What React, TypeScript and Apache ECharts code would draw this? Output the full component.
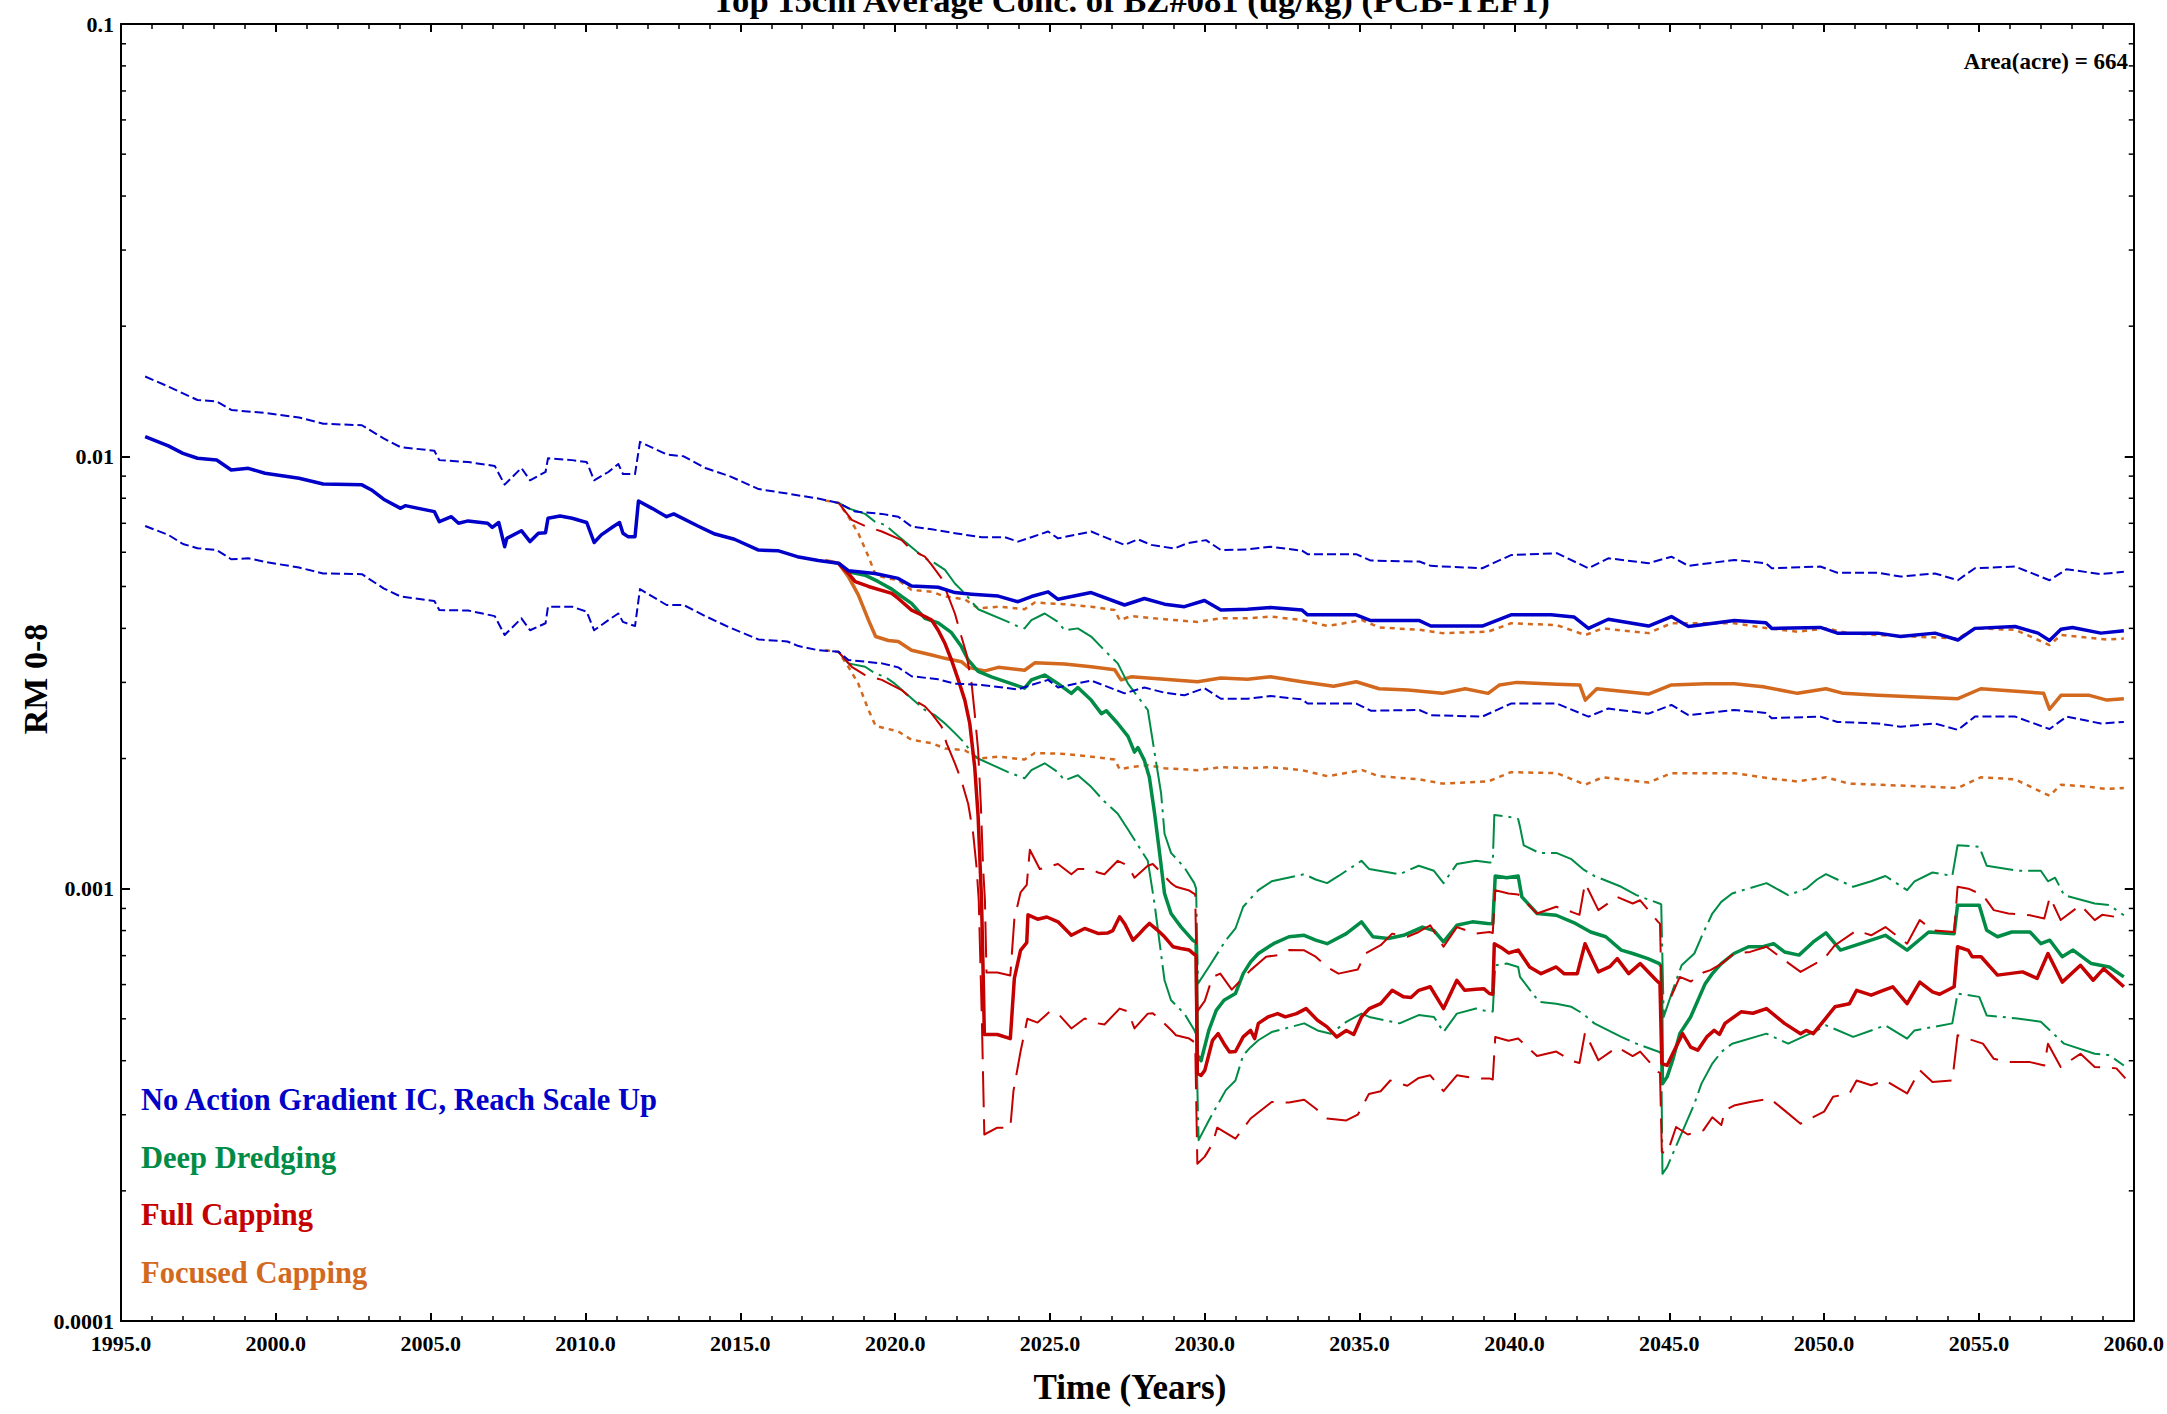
import React, { useEffect, useRef } from "react";
import * as echarts from "echarts";

const FONT = '"Liberation Serif", "Times New Roman", Times, serif';
const C_BLUE = "#0000C8";
const C_GREEN = "#008C46";
const C_RED = "#C40000";
const C_ORANGE = "#D2691E";

const TITLE = "Top 15cm Average Conc. of BZ#081 (ug/kg) (PCB-TEF1)";
const X_NAME = "Time (Years)";
const Y_NAME = "RM 0-8";
const AREA_NOTE = "Area(acre) = 664";
const LEGEND_LABELS = [
  "No Action Gradient IC, Reach Scale Up",
  "Deep Dredging",
  "Full Capping",
  "Focused Capping",
];
const Y_TICK_LABELS = ["0.0001", "0.001", "0.01", "0.1"];
const Y_DECADES = [0.0001, 0.001, 0.01];
const MINOR_MULTS = [2, 3, 4, 5, 6, 7, 8, 9];

type P = [number, number];

// ---- No Action ----
const NA_UP: P[] = [[1995.78,0.0153],[1996.53,0.0145],[1997.47,0.0135],[1998.09,0.0134],[1998.56,0.0128],[1999.65,0.0126],[2000.75,0.0123],[2001.53,0.0119],[2002.78,0.0118],[2003.48,0.0110],[2004.03,0.0105],[2005.12,0.0103],[2005.28,0.0098],[2006.21,0.0097],[2007.07,0.0095],[2007.39,0.0086],[2007.93,0.0094],[2008.21,0.0088],[2008.71,0.0092],[2008.79,0.0099],[2009.57,0.0098],[2010.04,0.0097],[2010.28,0.0088],[2010.74,0.0092],[2011.06,0.0096],[2011.21,0.0091],[2011.60,0.0091],[2011.76,0.0108],[2012.62,0.0101],[2013.17,0.0100],[2013.87,0.0094],[2014.65,0.0090],[2015.59,0.0084],[2016.52,0.0082],[2017.46,0.0080],[2018.17,0.0078],[2018.71,0.00745],[2019.57,0.00736],[2020.10,0.00725],[2020.53,0.00688],[2021.18,0.00678],[2021.93,0.00664],[2022.79,0.0065],[2023.54,0.0065],[2023.97,0.00635],[2024.40,0.0065],[2024.94,0.0067],[2025.26,0.00646],[2026.33,0.0067],[2026.87,0.00646],[2027.41,0.00624],[2027.84,0.00643],[2028.27,0.00624],[2029.02,0.00612],[2029.45,0.0063],[2030.04,0.0064],[2030.52,0.00607],[2031.38,0.00609],[2032.12,0.00618],[2033.14,0.00605],[2033.32,0.00594],[2034.89,0.00594],[2035.36,0.00574],[2036.93,0.00571],[2037.30,0.00558],[2038.96,0.00551],[2039.89,0.00591],[2041.37,0.00597],[2042.39,0.00551],[2043.03,0.00581],[2044.33,0.00566],[2045.07,0.00586],[2045.62,0.00558],[2047.10,0.00576],[2048.12,0.00566],[2048.31,0.00551],[2049.88,0.00556],[2050.43,0.00538],[2051.73,0.00538],[2052.47,0.00527],[2053.58,0.00536],[2054.32,0.00517],[2054.87,0.00551],[2056.17,0.00556],[2057.28,0.00517],[2057.83,0.00548],[2058.94,0.00534],[2059.68,0.00541]];
const NA_MED: P[] = [[1995.78,0.01111],[1996.53,0.01057],[1997.00,0.01016],[1997.47,0.0099],[1998.09,0.00981],[1998.56,0.0093],[1999.11,0.00938],[1999.65,0.00914],[2000.75,0.0089],[2001.53,0.00863],[2002.78,0.00859],[2003.09,0.00836],[2003.48,0.00796],[2004.03,0.00758],[2004.18,0.00769],[2005.12,0.00745],[2005.28,0.00706],[2005.67,0.00725],[2005.90,0.0070],[2006.21,0.00709],[2006.84,0.0070],[2006.99,0.00685],[2007.20,0.00703],[2007.39,0.00618],[2007.46,0.00646],[2007.93,0.00673],[2008.21,0.00635],[2008.48,0.00664],[2008.71,0.00666],[2008.79,0.00719],[2009.18,0.00728],[2009.57,0.00719],[2010.04,0.00703],[2010.28,0.00632],[2010.51,0.00658],[2010.90,0.00688],[2011.10,0.00703],[2011.21,0.00664],[2011.37,0.00652],[2011.60,0.00652],[2011.71,0.00788],[2012.15,0.00758],[2012.62,0.00725],[2012.85,0.00736],[2013.63,0.0069],[2014.18,0.00661],[2014.81,0.00643],[2015.59,0.00607],[2016.21,0.00605],[2016.84,0.00586],[2017.52,0.00574],[2018.17,0.00566],[2018.49,0.00544],[2019.35,0.00536],[2020.10,0.00522],[2020.53,0.00501],[2021.39,0.00498],[2021.93,0.00484],[2022.47,0.0048],[2023.33,0.00475],[2023.97,0.00461],[2024.40,0.00474],[2024.94,0.00486],[2025.26,0.00467],[2026.33,0.00484],[2027.41,0.00453],[2028.05,0.00469],[2028.70,0.00455],[2029.34,0.00449],[2029.99,0.00464],[2030.52,0.00441],[2031.38,0.00443],[2032.12,0.00447],[2033.14,0.00441],[2033.32,0.0043],[2034.89,0.0043],[2035.36,0.00417],[2036.93,0.00417],[2037.30,0.00405],[2038.96,0.00405],[2039.89,0.0043],[2041.18,0.0043],[2041.92,0.00425],[2042.39,0.0040],[2043.03,0.0042],[2044.33,0.00405],[2045.07,0.00426],[2045.62,0.00404],[2047.10,0.00417],[2048.12,0.00412],[2048.31,0.0040],[2049.88,0.00402],[2050.43,0.0039],[2051.73,0.0039],[2052.47,0.00383],[2053.58,0.0039],[2054.32,0.00376],[2054.87,0.0040],[2056.17,0.00404],[2056.91,0.0039],[2057.28,0.00375],[2057.65,0.00398],[2058.02,0.00402],[2058.94,0.0039],[2059.68,0.00395]];
const NA_LO: P[] = [[1995.78,0.0069],[1996.53,0.00658],[1997.00,0.00627],[1997.47,0.00613],[1998.09,0.00607],[1998.56,0.00578],[1999.11,0.00581],[1999.65,0.0057],[2000.75,0.00553],[2001.53,0.00536],[2002.78,0.00534],[2003.48,0.00495],[2004.03,0.00474],[2005.12,0.00463],[2005.28,0.00441],[2006.21,0.0044],[2007.07,0.00427],[2007.39,0.00386],[2007.93,0.00422],[2008.21,0.00396],[2008.71,0.00411],[2008.79,0.00449],[2009.57,0.00449],[2010.04,0.00437],[2010.28,0.00396],[2010.74,0.00418],[2011.06,0.00433],[2011.21,0.00414],[2011.60,0.00405],[2011.76,0.00493],[2012.62,0.00453],[2013.17,0.00453],[2013.87,0.00427],[2014.65,0.00402],[2015.59,0.00377],[2016.52,0.00373],[2016.88,0.00364],[2017.52,0.00356],[2018.17,0.00353],[2018.49,0.00338],[2019.57,0.00332],[2020.10,0.00325],[2020.53,0.0031],[2021.39,0.00305],[2021.93,0.00298],[2022.79,0.00296],[2023.97,0.00289],[2024.40,0.00296],[2024.94,0.00304],[2025.26,0.00292],[2026.33,0.00303],[2027.41,0.00283],[2028.05,0.00292],[2028.70,0.00284],[2029.34,0.0028],[2029.99,0.00291],[2030.52,0.00275],[2031.38,0.00275],[2032.12,0.00279],[2033.14,0.00274],[2033.32,0.00268],[2034.89,0.00268],[2035.36,0.00258],[2036.93,0.00259],[2037.30,0.00252],[2038.96,0.0025],[2039.89,0.00268],[2041.37,0.00268],[2042.39,0.0025],[2043.03,0.00261],[2044.33,0.00254],[2045.07,0.00266],[2045.62,0.00252],[2047.10,0.00259],[2048.12,0.00255],[2048.31,0.00248],[2049.88,0.0025],[2050.43,0.00243],[2051.73,0.00241],[2052.47,0.00237],[2053.58,0.00241],[2054.32,0.00233],[2054.87,0.0025],[2056.17,0.0025],[2057.28,0.00234],[2057.83,0.0025],[2058.94,0.00241],[2059.68,0.00243]];

// ---- Deep Dredging ----
const DD_UP: P[] = [[2018.17,0.00781],[2018.49,0.00758],[2019.03,0.00736],[2019.35,0.00706],[2019.67,0.00694],[2019.99,0.00664],[2020.96,0.00581],[2021.28,0.00566],[2021.61,0.00546],[2021.93,0.00508],[2022.25,0.00482],[2022.47,0.00461],[2022.68,0.00443],[2023.65,0.00414],[2023.97,0.00404],[2024.18,0.0040],[2024.40,0.00418],[2024.83,0.00433],[2025.26,0.00414],[2025.47,0.00396],[2025.90,0.0040],[2026.33,0.00383],[2026.76,0.00356],[2027.19,0.00332],[2027.52,0.00298],[2028.16,0.00259],[2028.38,0.00206],[2028.59,0.00166],[2028.70,0.00134],[2028.91,0.00121],[2029.34,0.00112],[2029.66,0.00103],[2029.72,0.0010],[2029.78,0.000603],[2030.13,0.000659],[2030.68,0.00076],[2030.99,0.000809],[2031.24,0.000908],[2031.48,0.000949],[2031.73,0.000992],[2032.16,0.00104],[2033.21,0.00108],[2033.58,0.00105],[2033.95,0.00103],[2034.32,0.00107],[2035.06,0.00116],[2035.31,0.00111],[2036.29,0.00108],[2036.91,0.00113],[2037.40,0.0011],[2037.71,0.00103],[2038.14,0.00114],[2038.76,0.00116],[2039.19,0.00115],[2039.30,0.00115],[2039.35,0.00148],[2039.75,0.00147],[2040.12,0.00145],[2040.18,0.00139],[2040.30,0.00126],[2040.80,0.00121],[2041.35,0.00121],[2041.84,0.00117],[2042.21,0.00111],[2042.58,0.00107],[2043.45,0.00101],[2043.94,0.000966],[2044.68,0.000924],[2044.74,0.00092],[2044.82,0.000505],[2045.11,0.000582],[2045.40,0.000665],[2045.81,0.000708],[2046.04,0.000774],[2046.39,0.000876],[2046.68,0.000932],[2047.03,0.000975],[2048.14,0.00103],[2048.84,0.000966],[2049.42,0.0010],[2049.77,0.00105],[2050.06,0.00108],[2050.94,0.00101],[2051.52,0.00104],[2051.98,0.00107],[2052.68,0.000992],[2052.92,0.00104],[2053.50,0.00109],[2054.14,0.00107],[2054.31,0.00126],[2055.01,0.00125],[2055.25,0.00113],[2056.24,0.0011],[2057.00,0.0011],[2057.23,0.00104],[2057.46,0.00106],[2057.75,0.000966],[2058.74,0.000924],[2059.21,0.000916],[2059.68,0.000868]];
const DD_MED: P[] = [[2018.17,0.00566],[2018.49,0.00541],[2019.03,0.00531],[2019.46,0.00513],[2019.89,0.00493],[2020.21,0.00474],[2020.53,0.00457],[2020.96,0.00422],[2021.39,0.00412],[2021.82,0.00391],[2022.14,0.00363],[2022.36,0.00338],[2022.68,0.00318],[2023.11,0.00309],[2023.75,0.00298],[2024.18,0.00291],[2024.40,0.00304],[2024.83,0.00312],[2025.26,0.00298],[2025.69,0.00283],[2025.90,0.00292],[2026.33,0.00273],[2026.66,0.00254],[2026.82,0.00258],[2027.19,0.00241],[2027.52,0.00225],[2027.73,0.00207],[2027.84,0.00212],[2028.05,0.00198],[2028.21,0.00181],[2028.38,0.00149],[2028.54,0.00121],[2028.70,0.000975],[2028.91,0.000876],[2029.23,0.000816],[2029.61,0.00076],[2029.72,0.00075],[2029.76,0.000412],[2029.88,0.0004],[2030.13,0.00047],[2030.37,0.000523],[2030.62,0.000552],[2030.99,0.000572],[2031.24,0.000636],[2031.48,0.000677],[2031.73,0.000708],[2032.22,0.000746],[2032.72,0.000774],[2033.21,0.00078],[2033.58,0.00076],[2033.95,0.000746],[2034.57,0.000787],[2035.06,0.000838],[2035.43,0.000774],[2035.92,0.000767],[2036.42,0.00078],[2037.03,0.000815],[2037.40,0.0008],[2037.71,0.000753],[2038.14,0.000823],[2038.64,0.000838],[2039.13,0.000831],[2039.30,0.00083],[2039.38,0.00107],[2039.75,0.00106],[2040.12,0.00107],[2040.24,0.000957],[2040.73,0.000876],[2041.35,0.000868],[2041.97,0.000831],[2042.46,0.000794],[2042.95,0.000774],[2043.45,0.000721],[2043.82,0.000708],[2044.31,0.000689],[2044.68,0.000671],[2044.74,0.00066],[2044.78,0.000354],[2044.93,0.000367],[2045.11,0.000401],[2045.34,0.000462],[2045.69,0.000505],[2046.16,0.000603],[2046.39,0.000636],[2046.68,0.000671],[2047.09,0.000708],[2047.56,0.000734],[2048.02,0.000734],[2048.37,0.000746],[2048.72,0.000714],[2049.19,0.000702],[2049.65,0.000753],[2050.06,0.00079],[2050.53,0.000721],[2051.52,0.00076],[2051.98,0.00078],[2052.68,0.000721],[2053.38,0.000794],[2054.20,0.000787],[2054.31,0.000916],[2055.01,0.000916],[2055.25,0.000801],[2055.60,0.000774],[2056.06,0.000794],[2056.65,0.000794],[2057.00,0.000746],[2057.29,0.00076],[2057.69,0.000696],[2058.04,0.000721],[2058.63,0.000671],[2059.21,0.000659],[2059.68,0.000625]];
const DD_LO: P[] = [[2018.17,0.00353],[2018.49,0.00332],[2019.03,0.00326],[2019.35,0.00315],[2019.67,0.00309],[2019.99,0.00298],[2020.96,0.00259],[2021.28,0.00252],[2021.61,0.00241],[2021.93,0.00229],[2022.25,0.00217],[2022.47,0.00206],[2022.68,0.0020],[2023.65,0.00186],[2024.18,0.0018],[2024.40,0.00188],[2024.83,0.00195],[2025.26,0.00186],[2025.47,0.00178],[2025.90,0.00183],[2026.33,0.00172],[2026.76,0.00159],[2027.19,0.00149],[2027.52,0.00137],[2028.16,0.00116],[2028.38,0.00092],[2028.54,0.00075],[2028.70,0.000614],[2028.91,0.000552],[2029.34,0.000514],[2029.66,0.000471],[2029.72,0.00046],[2029.80,0.000262],[2030.13,0.000291],[2030.68,0.000342],[2030.99,0.00036],[2031.24,0.000412],[2031.48,0.00043],[2031.73,0.000446],[2032.16,0.000466],[2033.21,0.000488],[2033.64,0.00047],[2034.07,0.000462],[2034.57,0.000492],[2035.06,0.000514],[2035.31,0.000505],[2036.29,0.000488],[2036.91,0.00051],[2037.40,0.000505],[2037.71,0.000466],[2038.14,0.000514],[2038.76,0.000528],[2039.19,0.000519],[2039.30,0.00052],[2039.38,0.000665],[2039.75,0.000671],[2040.12,0.000659],[2040.18,0.000625],[2040.80,0.000547],[2041.35,0.000542],[2041.84,0.000533],[2042.21,0.000514],[2042.58,0.000488],[2043.45,0.000454],[2043.94,0.000438],[2044.68,0.000419],[2044.74,0.000415],[2044.78,0.000219],[2044.93,0.000227],[2045.16,0.000248],[2045.81,0.000318],[2046.04,0.000354],[2046.39,0.000394],[2046.68,0.000419],[2047.03,0.000438],[2048.14,0.000462],[2048.84,0.000438],[2049.77,0.00047],[2050.06,0.000483],[2050.94,0.000454],[2051.98,0.000483],[2052.68,0.00045],[2052.92,0.00047],[2054.14,0.000488],[2054.31,0.000572],[2055.01,0.000562],[2055.25,0.000509],[2056.24,0.000501],[2057.00,0.000492],[2057.75,0.000438],[2058.74,0.000415],[2059.21,0.000412],[2059.68,0.00039]];

// ---- Full Capping ----
const FC_UP: P[] = [[2018.17,0.00781],[2018.60,0.00713],[2019.03,0.0069],[2019.57,0.0067],[2020.21,0.0064],[2020.53,0.00607],[2020.96,0.00586],[2021.18,0.00561],[2021.50,0.00522],[2021.66,0.00486],[2021.93,0.00433],[2022.14,0.00383],[2022.30,0.0035],[2022.47,0.00298],[2022.57,0.00254],[2022.68,0.00209],[2022.77,0.00155],[2022.84,0.00112],[2022.90,0.00094],[2022.95,0.00064],[2023.30,0.00064],[2023.72,0.00063],[2023.85,0.00085],[2024.05,0.00098],[2024.25,0.00102],[2024.35,0.00123],[2024.67,0.00111],[2025.26,0.00114],[2025.69,0.00108],[2025.90,0.00111],[2026.33,0.00111],[2026.55,0.00109],[2026.76,0.00108],[2027.19,0.00116],[2027.52,0.00113],[2027.73,0.00106],[2028.16,0.00113],[2028.32,0.00114],[2028.59,0.00109],[2028.91,0.00103],[2029.07,0.00101],[2029.50,0.00099],[2029.69,0.00097],[2029.76,0.00052],[2030.00,0.00055],[2030.25,0.000625],[2030.50,0.000636],[2030.87,0.000584],[2031.48,0.000648],[2031.98,0.000696],[2032.35,0.000702],[2032.72,0.000721],[2033.21,0.00072],[2033.58,0.000696],[2033.95,0.000659],[2034.32,0.000636],[2034.94,0.00065],[2035.18,0.000708],[2035.68,0.00074],[2036.05,0.000787],[2036.54,0.000774],[2036.91,0.000794],[2037.28,0.000823],[2037.71,0.000734],[2038.14,0.000815],[2038.76,0.000787],[2039.19,0.000794],[2039.30,0.00079],[2039.38,0.000992],[2039.81,0.000975],[2040.12,0.00097],[2040.73,0.000876],[2041.35,0.000908],[2041.84,0.000884],[2042.10,0.00087],[2042.28,0.00103],[2042.71,0.000892],[2043.32,0.000957],[2043.82,0.000924],[2044.06,0.00094],[2044.64,0.000838],[2044.70,0.00083],[2044.76,0.000552],[2045.00,0.00055],[2045.34,0.000625],[2045.70,0.00061],[2046.10,0.00064],[2046.33,0.000648],[2046.68,0.00067],[2047.09,0.000708],[2047.61,0.000714],[2048.14,0.000734],[2048.72,0.000683],[2049.24,0.000642],[2050.00,0.000689],[2050.35,0.00074],[2051.05,0.000801],[2051.52,0.00078],[2051.98,0.000815],[2052.68,0.000746],[2053.09,0.000846],[2053.50,0.000801],[2054.20,0.000794],[2054.31,0.00101],[2054.66,0.0010],[2055.13,0.000966],[2055.48,0.000892],[2055.95,0.000876],[2056.65,0.000868],[2057.11,0.000853],[2057.29,0.000957],[2057.64,0.000846],[2058.28,0.000916],[2058.74,0.000846],[2058.98,0.00087],[2059.44,0.00086],[2059.73,0.000846]];
const FC_MED: P[] = [[2018.17,0.00566],[2018.49,0.00536],[2018.71,0.00513],[2019.14,0.0050],[2019.89,0.00482],[2020.10,0.00469],[2020.53,0.00441],[2020.96,0.00426],[2021.18,0.00418],[2021.39,0.00396],[2021.61,0.00369],[2021.82,0.00338],[2022.04,0.00304],[2022.25,0.00273],[2022.41,0.00241],[2022.57,0.00191],[2022.68,0.00147],[2022.79,0.00094],[2022.85,0.0006],[2022.88,0.00046],[2023.30,0.00046],[2023.72,0.00045],[2023.85,0.00062],[2024.05,0.00072],[2024.25,0.00075],[2024.29,0.00087],[2024.60,0.00085],[2024.90,0.00086],[2025.26,0.000838],[2025.69,0.00078],[2026.12,0.000809],[2026.55,0.000788],[2026.87,0.00079],[2027.03,0.0008],[2027.25,0.000861],[2027.41,0.00083],[2027.68,0.00076],[2027.84,0.00078],[2028.05,0.00081],[2028.21,0.000831],[2028.48,0.000801],[2028.70,0.000774],[2028.97,0.000734],[2029.23,0.000727],[2029.50,0.000721],[2029.69,0.000702],[2029.72,0.0007],[2029.76,0.000374],[2029.88,0.00037],[2030.00,0.00038],[2030.25,0.000446],[2030.43,0.000462],[2030.62,0.000438],[2030.80,0.000419],[2030.99,0.00042],[2031.24,0.000454],[2031.48,0.00047],[2031.61,0.00045],[2031.73,0.000488],[2032.04,0.000505],[2032.35,0.000514],[2032.60,0.000505],[2032.96,0.000514],[2033.27,0.000528],[2033.64,0.000496],[2033.95,0.000479],[2034.26,0.000454],[2034.57,0.00047],[2034.81,0.00046],[2035.06,0.000505],[2035.31,0.000528],[2035.68,0.000542],[2036.05,0.000582],[2036.42,0.000562],[2036.66,0.00056],[2036.91,0.000582],[2037.28,0.000593],[2037.71,0.000528],[2038.14,0.000614],[2038.39,0.000582],[2038.76,0.000585],[2039.01,0.000587],[2039.19,0.000572],[2039.30,0.00057],[2039.35,0.000746],[2039.62,0.000727],[2039.81,0.00071],[2040.12,0.000721],[2040.49,0.000659],[2040.86,0.000636],[2041.35,0.000659],[2041.60,0.000636],[2042.03,0.000636],[2042.28,0.000746],[2042.71,0.000642],[2043.08,0.00066],[2043.32,0.000689],[2043.69,0.000636],[2044.06,0.000671],[2044.58,0.000614],[2044.70,0.000603],[2044.76,0.000394],[2044.93,0.00039],[2045.11,0.000415],[2045.43,0.000462],[2045.69,0.00043],[2045.92,0.000423],[2046.21,0.000454],[2046.45,0.00047],[2046.62,0.00046],[2046.80,0.000488],[2047.32,0.000519],[2047.70,0.000515],[2048.14,0.000528],[2048.72,0.000488],[2049.24,0.000462],[2049.42,0.00047],[2049.65,0.000462],[2050.00,0.000496],[2050.35,0.000533],[2050.82,0.000542],[2051.05,0.000582],[2051.52,0.000567],[2051.87,0.00058],[2052.22,0.000593],[2052.68,0.000542],[2053.09,0.000608],[2053.50,0.000577],[2053.73,0.00057],[2054.20,0.000593],[2054.31,0.000734],[2054.66,0.00072],[2054.78,0.000696],[2055.07,0.000696],[2055.60,0.000631],[2056.41,0.000642],[2056.88,0.00062],[2057.23,0.000708],[2057.69,0.000608],[2058.28,0.000665],[2058.69,0.000614],[2059.03,0.000653],[2059.68,0.000593]];
const FC_LO: P[] = [[2018.17,0.00353],[2018.60,0.00326],[2019.03,0.00312],[2019.57,0.00304],[2020.21,0.00288],[2020.53,0.00275],[2020.96,0.00264],[2021.18,0.00254],[2021.50,0.00237],[2021.66,0.00217],[2021.93,0.00195],[2022.14,0.00178],[2022.36,0.00157],[2022.52,0.00134],[2022.63,0.00112],[2022.70,0.00094],[2022.80,0.0005],[2022.88,0.00027],[2023.30,0.00028],[2023.72,0.00028],[2023.82,0.00034],[2024.05,0.00042],[2024.27,0.0005],[2024.60,0.00049],[2025.00,0.00052],[2025.26,0.000514],[2025.69,0.000475],[2026.12,0.000501],[2026.55,0.000488],[2026.76,0.000485],[2027.25,0.000528],[2027.52,0.00052],[2027.73,0.000475],[2028.16,0.000514],[2028.32,0.000515],[2028.59,0.000496],[2028.91,0.000471],[2029.07,0.000458],[2029.50,0.00045],[2029.69,0.00044],[2029.76,0.000231],[2030.00,0.00024],[2030.25,0.000257],[2030.40,0.00028],[2030.99,0.000264],[2031.48,0.000294],[2032.16,0.000321],[2032.72,0.00032],[2033.21,0.000325],[2033.58,0.00031],[2033.95,0.000294],[2034.57,0.000291],[2034.94,0.0003],[2035.30,0.000335],[2035.68,0.00034],[2035.99,0.00036],[2036.54,0.00035],[2036.91,0.000365],[2037.28,0.00037],[2037.71,0.00034],[2038.14,0.00037],[2038.76,0.000364],[2039.19,0.000364],[2039.30,0.000362],[2039.38,0.000454],[2039.81,0.000445],[2040.12,0.00045],[2040.73,0.00041],[2041.35,0.00042],[2041.84,0.0004],[2042.10,0.000395],[2042.28,0.000465],[2042.71,0.000401],[2043.32,0.00043],[2043.82,0.00041],[2044.06,0.00042],[2044.64,0.000377],[2044.70,0.000375],[2044.76,0.000246],[2044.93,0.000244],[2045.22,0.000281],[2045.60,0.00027],[2046.10,0.000276],[2046.39,0.000296],[2046.68,0.000284],[2046.80,0.000307],[2047.09,0.000315],[2047.61,0.000321],[2048.25,0.000327],[2048.72,0.000307],[2049.24,0.000286],[2050.00,0.000305],[2050.29,0.00033],[2050.82,0.000336],[2051.05,0.00036],[2051.52,0.000351],[2051.98,0.00036],[2052.68,0.000336],[2053.09,0.00038],[2053.50,0.000357],[2054.14,0.00036],[2054.31,0.000458],[2055.13,0.000438],[2055.48,0.000404],[2055.95,0.000397],[2056.65,0.000397],[2057.11,0.00039],[2057.23,0.000438],[2057.64,0.000387],[2058.28,0.000415],[2058.74,0.000387],[2059.44,0.000384],[2059.73,0.000364]];

// ---- Focused Capping ----
const FOC_UP: P[] = [[2017.74,0.0079],[2018.17,0.00781],[2018.49,0.00725],[2018.81,0.00664],[2019.14,0.00586],[2019.37,0.00531],[2019.78,0.00522],[2020.10,0.00517],[2020.53,0.00491],[2021.18,0.00486],[2021.61,0.00474],[2022.25,0.00467],[2022.68,0.00445],[2023.33,0.00449],[2024.18,0.00443],[2024.51,0.00459],[2025.47,0.00455],[2026.33,0.00449],[2027.09,0.00441],[2027.25,0.00418],[2027.62,0.00427],[2028.70,0.0042],[2029.77,0.00414],[2030.52,0.00422],[2031.38,0.00422],[2032.12,0.00426],[2033.14,0.00418],[2033.97,0.00405],[2035.08,0.00418],[2035.63,0.00402],[2036.93,0.00397],[2037.67,0.0039],[2039.15,0.00393],[2039.89,0.00411],[2041.37,0.00407],[2042.29,0.00386],[2042.85,0.0040],[2044.33,0.0039],[2045.07,0.00411],[2047.10,0.00411],[2048.21,0.0040],[2049.14,0.00393],[2050.06,0.0040],[2050.80,0.0039],[2051.73,0.00386],[2054.32,0.00379],[2054.87,0.0040],[2056.17,0.00397],[2057.28,0.00366],[2057.65,0.00386],[2059.13,0.00377],[2059.68,0.00379]];
const FOC_MED: P[] = [[2017.74,0.00574],[2018.17,0.00566],[2018.49,0.00527],[2018.81,0.00478],[2019.14,0.00418],[2019.37,0.00383],[2019.78,0.00375],[2020.10,0.00373],[2020.53,0.00356],[2021.18,0.00347],[2021.61,0.00341],[2022.14,0.00335],[2022.36,0.00325],[2022.90,0.00319],[2023.33,0.00325],[2024.18,0.0032],[2024.51,0.00333],[2025.47,0.00331],[2026.33,0.00326],[2027.09,0.00321],[2027.30,0.00304],[2027.62,0.00309],[2028.70,0.00305],[2029.77,0.00301],[2030.52,0.00307],[2031.38,0.00305],[2032.12,0.00309],[2033.14,0.00301],[2034.16,0.00294],[2034.89,0.00301],[2035.63,0.0029],[2036.56,0.00288],[2037.67,0.00283],[2038.41,0.0029],[2039.15,0.00283],[2039.52,0.00296],[2040.07,0.0030],[2041.37,0.00297],[2042.11,0.00296],[2042.29,0.00273],[2042.66,0.0029],[2044.33,0.00282],[2045.07,0.00296],[2046.18,0.00298],[2047.10,0.00298],[2048.03,0.00293],[2049.14,0.00283],[2050.06,0.0029],[2050.62,0.00283],[2051.73,0.0028],[2052.84,0.00278],[2054.32,0.00275],[2055.06,0.0029],[2056.54,0.00285],[2057.09,0.00283],[2057.28,0.0026],[2057.65,0.0028],[2058.57,0.0028],[2059.13,0.00273],[2059.68,0.00275]];
const FOC_LO: P[] = [[2017.74,0.00356],[2018.17,0.00353],[2018.49,0.00326],[2018.81,0.00298],[2019.14,0.00259],[2019.37,0.00238],[2019.78,0.00234],[2020.10,0.00231],[2020.53,0.00221],[2021.18,0.00217],[2021.61,0.00211],[2022.25,0.00209],[2022.68,0.0020],[2023.33,0.00202],[2024.18,0.00199],[2024.51,0.00206],[2025.47,0.00205],[2026.33,0.00202],[2027.09,0.00199],[2027.25,0.00189],[2027.62,0.00191],[2028.16,0.00193],[2028.70,0.0019],[2029.77,0.00188],[2030.52,0.00191],[2031.38,0.0019],[2032.12,0.00191],[2033.14,0.00188],[2033.97,0.00182],[2035.08,0.00188],[2035.63,0.00182],[2036.93,0.00179],[2037.67,0.00175],[2039.15,0.00177],[2039.89,0.00186],[2041.37,0.00185],[2042.29,0.00174],[2042.85,0.00181],[2044.33,0.00176],[2045.07,0.00185],[2047.10,0.00185],[2048.21,0.0018],[2049.14,0.00177],[2050.06,0.00181],[2050.80,0.00175],[2051.73,0.00174],[2054.32,0.00171],[2055.06,0.00181],[2056.17,0.00179],[2057.28,0.00164],[2057.65,0.00174],[2058.57,0.00172],[2059.13,0.0017],[2059.68,0.00171]];

const X_MIN = 1995;
const X_MAX = 2060;
const Y_MIN = 0.0001;
const Y_MAX = 0.1;

function lineSeries(name: string, data: P[], color: string, width: number, type: any, z: number) {
  return {
    type: "line",
    name,
    data,
    showSymbol: false,
    symbol: "none",
    silent: true,
    clip: true,
    z,
    lineStyle: { color, width, type, cap: "butt", join: "round" },
    itemStyle: { color },
  };
}

export default function App() {
  const ref = useRef<HTMLDivElement>(null);

  useEffect(() => {
    if (!ref.current) return;
    const chart = echarts.init(ref.current, null, { renderer: "svg", width: 2167, height: 1414 });

    const minorY: P[] = [];
    Y_DECADES.forEach((d) => MINOR_MULTS.forEach((m) => minorY.push([X_MIN, d * m])));

    const axisCommon = {
      axisLine: { show: true, onZero: false, lineStyle: { color: "#000", width: 2 } },
      splitLine: { show: false },
      minorSplitLine: { show: false },
    };

    const textStyleBase = { fontFamily: FONT, fontWeight: "bold" };

    const option: any = {
      animation: false,
      backgroundColor: "#ffffff",
      grid: { left: 121, right: 29, top: 24, bottom: 93, containLabel: false },
      xAxis: [
        {
          type: "value",
          min: X_MIN,
          max: X_MAX,
          interval: 5,
          position: "bottom",
          ...axisCommon,
          axisTick: { show: true, inside: true, length: 8, lineStyle: { color: "#000", width: 2 } },
          minorTick: { show: true, splitNumber: 5, length: 5, lineStyle: { color: "#000", width: 1.5 } },
          axisLabel: {
            show: true,
            margin: 11,
            color: "#000",
            fontSize: 22,
            ...textStyleBase,
            formatter: (v: number) => v.toFixed(1),
          },
        },
        {
          type: "value",
          min: X_MIN,
          max: X_MAX,
          interval: 5,
          position: "top",
          ...axisCommon,
          axisTick: { show: true, inside: true, length: 8, lineStyle: { color: "#000", width: 2 } },
          minorTick: { show: true, splitNumber: 5, length: 5, lineStyle: { color: "#000", width: 1.5 } },
          axisLabel: { show: false },
        },
      ],
      yAxis: [
        {
          type: "log",
          logBase: 10,
          min: Y_MIN,
          max: Y_MAX,
          position: "left",
          ...axisCommon,
          axisTick: { show: true, inside: true, length: 9, lineStyle: { color: "#000", width: 2 } },
          minorTick: { show: false },
          axisLabel: {
            show: true,
            margin: 7,
            color: "#000",
            fontSize: 22,
            ...textStyleBase,
            padding: [0, 0, 13, 0],
            formatter: (v: number) => {
              const e = Math.round(Math.log10(v));
              return Y_TICK_LABELS[e + 4] ?? "";
            },
          },
        },
        {
          type: "log",
          logBase: 10,
          min: Y_MIN,
          max: Y_MAX,
          position: "right",
          ...axisCommon,
          axisTick: { show: true, inside: true, length: 9, lineStyle: { color: "#000", width: 2 } },
          minorTick: { show: false },
          axisLabel: { show: false },
        },
      ],
      graphic: [
        {
          type: "text",
          x: 1131,
          y: 0,
          silent: true,
          style: { text: TITLE, fill: "#000", fontSize: 34.6, ...textStyleBase, align: "center", verticalAlign: "middle" },
        },
        {
          type: "text",
          x: 1130,
          y: 1387,
          silent: true,
          style: { text: X_NAME, fill: "#000", fontSize: 35, ...textStyleBase, align: "center", verticalAlign: "middle" },
        },
        {
          type: "text",
          x: 35,
          y: 679,
          rotation: Math.PI / 2,
          silent: true,
          style: { text: Y_NAME, fill: "#000", fontSize: 34, ...textStyleBase, align: "center", verticalAlign: "middle" },
        },
        {
          type: "text",
          x: 2128,
          y: 61,
          silent: true,
          style: { text: AREA_NOTE, fill: "#000", fontSize: 23, ...textStyleBase, align: "right", verticalAlign: "middle" },
        },
        ...LEGEND_LABELS.map((t, i) => ({
          type: "text",
          x: 141,
          y: 1100 + i * 57.7,
          silent: true,
          style: {
            text: t,
            fill: [C_BLUE, C_GREEN, C_RED, C_ORANGE][i],
            fontSize: 30.5,
            ...textStyleBase,
            align: "left",
            verticalAlign: "middle",
          },
        })),
      ],
      series: [
        lineSeries("Focused Capping upper", FOC_UP, C_ORANGE, 2.5, [5, 5], 2),
        lineSeries("Focused Capping lower", FOC_LO, C_ORANGE, 2.5, [5, 5], 2),
        lineSeries("Focused Capping", FOC_MED, C_ORANGE, 3.5, "solid", 3),
        lineSeries("Deep Dredging upper", DD_UP, C_GREEN, 2, [42, 6, 3, 6], 4),
        lineSeries("Deep Dredging lower", DD_LO, C_GREEN, 2, [42, 6, 3, 6], 4),
        lineSeries("Deep Dredging", DD_MED, C_GREEN, 3.5, "solid", 5),
        lineSeries("Full Capping upper", FC_UP, C_RED, 2, [36, 12], 6),
        lineSeries("Full Capping lower", FC_LO, C_RED, 2, [36, 12], 6),
        lineSeries("Full Capping", FC_MED, C_RED, 3.5, "solid", 7),
        lineSeries("No Action upper", NA_UP, C_BLUE, 2, [9, 4], 8),
        lineSeries("No Action lower", NA_LO, C_BLUE, 2, [9, 4], 8),
        lineSeries("No Action Gradient IC, Reach Scale Up", NA_MED, C_BLUE, 3.5, "solid", 9),
        {
          type: "custom",
          name: "minor y ticks",
          coordinateSystem: "cartesian2d",
          xAxisIndex: 0,
          yAxisIndex: 0,
          silent: true,
          z: 20,
          data: minorY,
          renderItem: (_params: any, api: any) => {
            const v = api.value(1);
            const l = api.coord([X_MIN, v]);
            const r = api.coord([X_MAX, v]);
            return {
              type: "group",
              children: [
                { type: "line", shape: { x1: l[0], y1: l[1], x2: l[0] + 5, y2: l[1] }, style: { stroke: "#000", lineWidth: 1.5 } },
                { type: "line", shape: { x1: r[0] - 5, y1: r[1], x2: r[0], y2: r[1] }, style: { stroke: "#000", lineWidth: 1.5 } },
              ],
            };
          },
        },
      ],
    };

    chart.setOption(option);
    return () => {
      chart.dispose();
    };
  }, []);

  return (
    <div
      ref={ref}
      style={{ position: "fixed", left: 0, top: 0, width: 2167, height: 1414, background: "#fff" }}
    />
  );
}
